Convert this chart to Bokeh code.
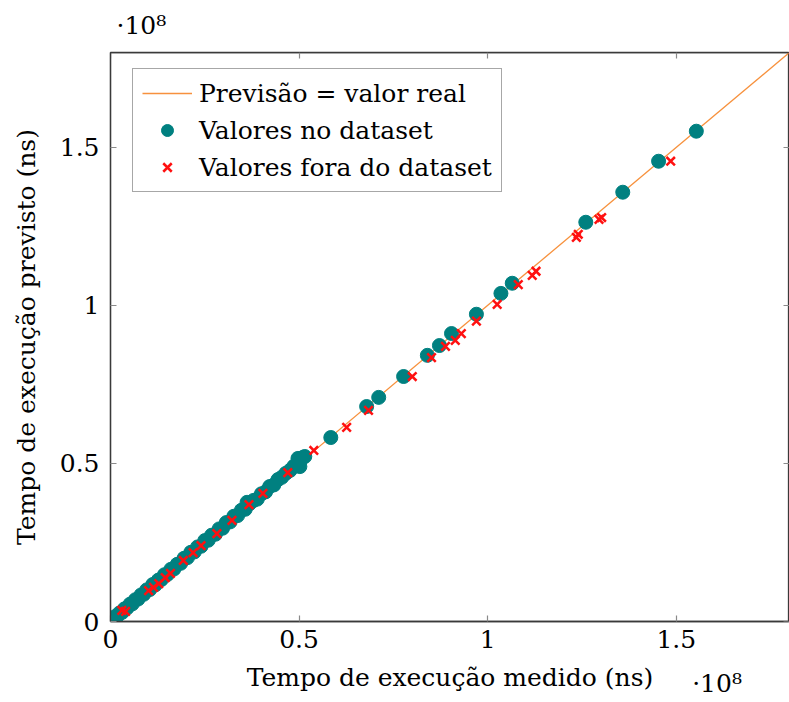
from bokeh.plotting import figure
from bokeh.models import (LinearAxis, FixedTicker, NumeralTickFormatter, CustomJSTickFormatter,
                          Legend, LegendItem, Range1d, Title)
from bokeh.embed import file_html
from bokeh.resources import INLINE

# values in units of 1e8 ns
ideal_x = [0.0, 1.8]
ideal_y = [0.0, 1.8]

ds_medido = [0.000, 0.004, 0.009, 0.013, 0.018, 0.024, 0.031, 0.037, 0.044, 0.052, 0.058, 0.066,
             0.073, 0.081, 0.088, 0.096, 0.104, 0.112, 0.119, 0.127, 0.135, 0.143, 0.151, 0.160,
             0.168, 0.177, 0.186, 0.195, 0.204, 0.213, 0.222, 0.231, 0.240, 0.250, 0.259, 0.268,
             0.278, 0.288, 0.297, 0.307, 0.317, 0.327, 0.337, 0.347, 0.357, 0.362, 0.368, 0.379,
             0.389, 0.400, 0.411, 0.422, 0.433, 0.444, 0.454, 0.465, 0.476, 0.486, 0.497, 0.502,
             0.510, 0.515, 0.584, 0.679, 0.711, 0.777, 0.840, 0.872, 0.904, 0.970, 1.035, 1.065,
             1.260, 1.358, 1.453, 1.553]
ds_previsto = [0.000, 0.006, 0.008, 0.016, 0.017, 0.027, 0.029, 0.040, 0.043, 0.055, 0.056, 0.069,
               0.071, 0.084, 0.086, 0.100, 0.101, 0.117, 0.116, 0.131, 0.133, 0.148, 0.149, 0.165,
               0.166, 0.181, 0.184, 0.200, 0.202, 0.219, 0.220, 0.236, 0.238, 0.256, 0.257, 0.273,
               0.276, 0.293, 0.295, 0.313, 0.315, 0.333, 0.335, 0.352, 0.355, 0.377, 0.372, 0.383,
               0.387, 0.404, 0.410, 0.427, 0.432, 0.449, 0.456, 0.469, 0.478, 0.491, 0.516, 0.490,
               0.519, 0.522, 0.582, 0.680, 0.709, 0.775, 0.842, 0.873, 0.911, 0.972, 1.038, 1.070,
               1.263, 1.358, 1.456, 1.551]

fora_medido = [0.030, 0.040, 0.101, 0.114, 0.128, 0.145, 0.159, 0.193, 0.219, 0.240, 0.282, 0.322,
               0.367, 0.404, 0.470, 0.539, 0.626, 0.684, 0.800, 0.851, 0.888, 0.914, 0.930, 0.970,
               1.025, 1.081, 1.118, 1.128, 1.235, 1.240, 1.295, 1.302, 1.485]
fora_previsto = [0.035, 0.032, 0.098, 0.108, 0.120, 0.139, 0.152, 0.193, 0.218, 0.240, 0.278, 0.320,
                 0.370, 0.405, 0.471, 0.541, 0.614, 0.668, 0.775, 0.835, 0.870, 0.889, 0.911, 0.950,
                 1.003, 1.066, 1.095, 1.108, 1.215, 1.225, 1.272, 1.278, 1.456]

tick_values = [0, 0.5, 1, 1.5]
scale_label = "·10⁸"
scale_label_x = [1.608]

FONT = "DejaVu Serif"
FS = "25px"

p = figure(width=789, height=702, x_range=Range1d(0, 1.8), y_range=Range1d(0, 1.8),
           output_backend="svg", toolbar_location=None,
           x_axis_location=None, y_axis_location=None,
           min_border_left=110, min_border_right=0, min_border_top=52, min_border_bottom=81)
p.grid.visible = False
p.outline_line_color = "#3a3a3a"
p.outline_line_width = 1.3
p.background_fill_color = "white"
p.border_fill_color = "white"


def make_axis(with_labels, label=None, fixed=None):
    ax = LinearAxis(ticker=FixedTicker(ticks=tick_values))
    ax.major_tick_in = 6
    ax.major_tick_out = 0
    ax.minor_tick_line_color = None
    ax.major_tick_line_color = "#8a8a8a"
    ax.major_tick_line_width = 1.2
    ax.axis_line_color = "#3a3a3a"
    ax.axis_line_width = 1.3
    if fixed is not None:
        ax.fixed_location = fixed
    if with_labels:
        ax.formatter = NumeralTickFormatter(format="0.[0]")
        ax.major_label_text_font = FONT
        ax.major_label_text_font_size = FS
        ax.major_label_text_color = "black"
    else:
        ax.formatter = CustomJSTickFormatter(code="return ''")
        ax.major_label_text_font_size = "0px"
        ax.major_label_standoff = 0
        ax.axis_label_standoff = 0
    if label:
        ax.axis_label = label
        ax.axis_label_text_font = FONT
        ax.axis_label_text_font_size = FS
        ax.axis_label_text_font_style = "normal"
        ax.axis_label_text_color = "black"
    return ax


xb = make_axis(True, "Tempo de execução medido (ns)")
xb.major_label_standoff = 8
xb.axis_label_standoff = 12
p.add_layout(xb, "below")

# scale factor of the x axis: the only label of an extra, line-less axis whose
# label is pulled back up beside the axis title
sx = LinearAxis(ticker=FixedTicker(ticks=scale_label_x),
                formatter=CustomJSTickFormatter(code="return '%s'" % scale_label))
sx.axis_line_color = None
sx.major_tick_line_color = None
sx.minor_tick_line_color = None
sx.major_tick_in = 0
sx.major_tick_out = 0
sx.major_label_standoff = -26
sx.major_label_text_font = FONT
sx.major_label_text_font_size = FS
sx.major_label_text_color = "black"
p.add_layout(sx, "below")

yl = make_axis(True, "Tempo de execução previsto (ns)")
yl.major_label_standoff = 11
yl.axis_label_standoff = 16
p.add_layout(yl, "left")

p.add_layout(make_axis(False, fixed=1.8), "above")
p.add_layout(make_axis(False, fixed=1.8), "right")

line_r = p.line(ideal_x, ideal_y, line_color="#f7913d", line_width=1.3)
circ_r = p.scatter(ds_medido, ds_previsto, marker="circle", size=14,
                   fill_color="#008080", line_color="#008080")
cross_r = p.scatter(fora_medido, fora_previsto, marker="x", size=12,
                    line_color="#ff1010", line_width=2.5)

legend = Legend(items=[
    LegendItem(label="Previsão = valor real", renderers=[line_r]),
    LegendItem(label="Valores no dataset", renderers=[circ_r]),
    LegendItem(label="Valores fora do dataset", renderers=[cross_r]),
], location=(22, 429))
legend.label_text_font = FONT
legend.label_text_font_size = FS
legend.label_text_color = "black"
legend.label_height = 30
legend.glyph_height = 30
legend.glyph_width = 50
legend.spacing = 7
legend.padding = 9
legend.margin = 0
legend.label_standoff = 7
legend.border_line_color = "#505050"
legend.border_line_width = 1.3
legend.background_fill_alpha = 1.0
p.add_layout(legend, "center")

# scale factor of the y axis
p.add_layout(Title(text=scale_label, align="left", offset=6, standoff=21, vertical_align="top",
                   text_font=FONT, text_font_size=FS, text_font_style="normal",
                   text_color="black"), "above")

open("out.html", "w").write(file_html(p, INLINE))
